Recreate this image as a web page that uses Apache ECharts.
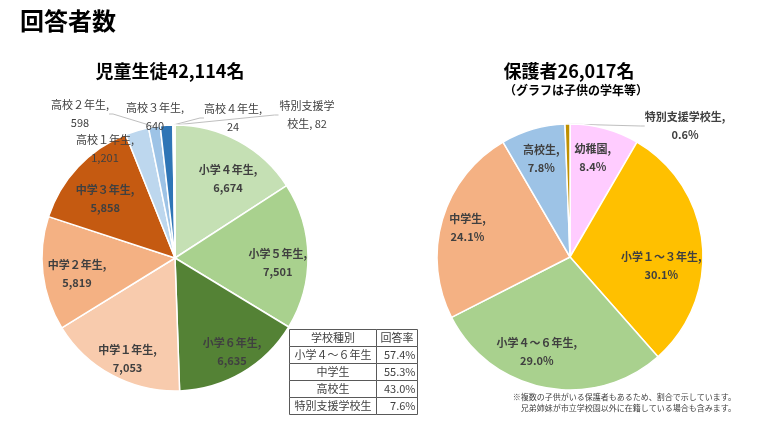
<!DOCTYPE html>
<html><head><meta charset="utf-8">
<script src="https://cdn.jsdelivr.net/npm/echarts@6/dist/echarts.min.js"></script>
<style>html,body{margin:0;padding:0;background:#fff}#c{width:760px;height:428px}</style>
</head><body><div id="c"></div>
<script>
// ---- data ----
const mainTitle = '回答者数';
const leftTitle = '児童生徒42,114名';
const leftNames = ['小学４年生','小学５年生','小学６年生','中学１年生','中学２年生','中学３年生','高校１年生','高校２年生','高校３年生','高校４年生','特別支援学校生'];
const leftValues = [6674,7501,6635,7053,5819,5858,1201,598,640,24,82];
const rightTitle = '保護者26,017名';
const rightSubtitle = '（グラフは子供の学年等）';
const rightNames = ['幼稚園','小学１～３年生','小学４～６年生','中学生','高校生','特別支援学校生'];
const rightValues = [8.4,30.1,29.0,24.1,7.8,0.6];
const tableHeader = ['学校種別','回答率'];
const tableTypes = ['小学４～６年生','中学生','高校生','特別支援学校生'];
const tableRates = ['57.4%','55.3%','43.0%','7.6%'];
const notes = ['※複数の子供がいる保護者もあるため、割合で示しています。','兄弟姉妹が市立学校園以外に在籍している場合も含みます。'];

// ---- styles ----
const FONT = "'Noto Sans CJK JP', 'Noto Sans', sans-serif";
const TXT = '#404040';
const leftColors = ['#C5E0B4','#A9D18E','#548235','#F8CBAD','#F4B183','#C55A11','#BDD7EE','#9DC3E6','#2E75B6','#DEEBF7','#FFE699'];
const rightColors = ['#FFCCFF','#FFC000','#A9D18E','#F4B183','#9DC3E6','#BF9000'];
const R = 133;
const leftCenter = [175, 258], rightCenter = [570, 257];
// placement of labels for thin slices (label centres)
const leftSpots = {6:[105,149], 7:[80,114], 8:[155,117], 9:[233,118], 10:[307,115]};
const leftNoLine = [6];
const rightSpots = {5:[685,126]};
const rightNoLine = [];
// small nudges of the inside labels (Excel best-fit placement)
const leftNudge = {0:[2,15], 1:[-4,6], 2:[3,2], 3:[3,7], 4:[8,3], 5:[8,14]};
const rightNudge = {0:[-4,0], 1:[-11,19], 2:[-14,-6], 3:[-4,0]};

const fmtCount = p => p.name + ',\n' + p.value.toLocaleString('en-US');
const fmtPct = p => p.name + ',\n' + p.value.toFixed(1) + '%';

function makePies(names, values, colors, center, spots, noLine, nudge, fmt, outsideBold, innerFrac) {
  const main = {
    type: 'pie', center: center, radius: [0, R], startAngle: 90, clockwise: true,
    avoidLabelOverlap: false, animation: false, silent: true,
    itemStyle: { borderColor: '#fff', borderWidth: 1.5 },
    label: { show: false }, labelLine: { show: false },
    data: names.map((n, i) => {
      const it = { name: n, value: values[i], itemStyle: { color: colors[i] } };
      if (spots[i]) {
        const special = (n === '特別支援学校生' && fmt === fmtCount);
        it.label = {
          show: true, position: 'outside', color: TXT, fontSize: 11, lineHeight: 18,
          fontFamily: FONT, fontWeight: outsideBold ? 'bold' : 'normal',
          formatter: special ? (p => p.name + ', ' + p.value.toLocaleString('en-US')) : fmt
        };
        if (special) { it.label.width = 57; it.label.overflow = 'break'; }
        it.labelLine = { show: !noLine.includes(i), length: 6, length2: 4, smooth: false,
          lineStyle: { color: '#BFBFBF', width: 1 } };
      }
      return it;
    }),
    labelLayout: p => {
      const s = spots[p.dataIndex];
      return s ? { x: s[0], y: s[1], align: 'center', verticalAlign: 'middle' } : {};
    }
  };
  const overlay = {
    type: 'pie', center: center, radius: [R * innerFrac, R], startAngle: 90, clockwise: true,
    avoidLabelOverlap: false, animation: false, silent: true,
    itemStyle: { color: 'rgba(0,0,0,0)', borderWidth: 0 },
    labelLine: { show: false },
    data: names.map((n, i) => ({
      name: n, value: values[i],
      label: {
        show: !spots[i], position: 'inside', rotate: 0, color: TXT, fontSize: 11, lineHeight: 18,
        fontFamily: FONT, fontWeight: 'bold', formatter: fmt, overflow: 'none'
      }
    })),
    labelLayout: p => {
      const d = nudge[p.dataIndex];
      return d ? { dx: d[0], dy: d[1] } : {};
    }
  };
  return [main, overlay];
}

// table graphics
const tbl = [];
const tx0 = 289.5, tx1 = 376.5, tx2 = 417.5, ty0 = 329.5, rh = 17;
const nRows = tableTypes.length + 1;
for (let r = 0; r < nRows; r++) {
  tbl.push({ type: 'rect', shape: { x: tx0, y: ty0 + r * rh, width: tx1 - tx0, height: rh },
    style: { fill: '#fff', stroke: '#595959', lineWidth: 1 } });
  tbl.push({ type: 'rect', shape: { x: tx1, y: ty0 + r * rh, width: tx2 - tx1, height: rh },
    style: { fill: '#fff', stroke: '#595959', lineWidth: 1 } });
  const cy = ty0 + r * rh + rh / 2;
  const c1 = r === 0 ? tableHeader[0] : tableTypes[r - 1];
  const c2 = r === 0 ? tableHeader[1] : tableRates[r - 1];
  tbl.push({ type: 'text', x: (tx0 + tx1) / 2, y: cy,
    style: { text: c1, fontSize: 11, fontFamily: FONT, fill: TXT, align: 'center', verticalAlign: 'middle' } });
  tbl.push({ type: 'text', x: r === 0 ? (tx1 + tx2) / 2 : tx2 - 2, y: cy,
    style: { text: c2, fontSize: 11, fontFamily: FONT, fill: TXT, align: r === 0 ? 'center' : 'right', verticalAlign: 'middle' } });
}

const chart = echarts.init(document.getElementById('c'), null, { renderer: 'canvas' });
chart.setOption({
  backgroundColor: '#fff',
  animation: false,
  series: [
    ...makePies(leftNames, leftValues, leftColors, leftCenter, leftSpots, leftNoLine, leftNudge, fmtCount, false, 0.56),
    ...makePies(rightNames, rightValues, rightColors, rightCenter, rightSpots, rightNoLine, rightNudge, fmtPct, true, 0.5)
  ],
  graphic: [
    { type: 'text', x: 20, y: 21, style: { text: mainTitle, fontSize: 24, fontWeight: 'bold', fontFamily: FONT, fill: '#000', verticalAlign: 'middle' } },
    { type: 'text', x: 170, y: 71, style: { text: leftTitle, fontSize: 18, fontWeight: 'bold', fontFamily: FONT, fill: '#000', align: 'center', verticalAlign: 'middle' } },
    { type: 'text', x: 569, y: 71, style: { text: rightTitle, fontSize: 18, fontWeight: 'bold', fontFamily: FONT, fill: '#000', align: 'center', verticalAlign: 'middle' } },
    { type: 'text', x: 576, y: 90, style: { text: rightSubtitle, fontSize: 12, fontWeight: 'bold', fontFamily: FONT, fill: '#000', align: 'center', verticalAlign: 'middle' } },
    ...tbl,
    { type: 'text', x: 736, y: 397, style: { text: notes[0], fontSize: 8, fontFamily: FONT, fill: TXT, align: 'right', verticalAlign: 'middle' } },
    { type: 'text', x: 736, y: 408, style: { text: notes[1], fontSize: 8, fontFamily: FONT, fill: TXT, align: 'right', verticalAlign: 'middle' } }
  ]
});
</script></body></html>
